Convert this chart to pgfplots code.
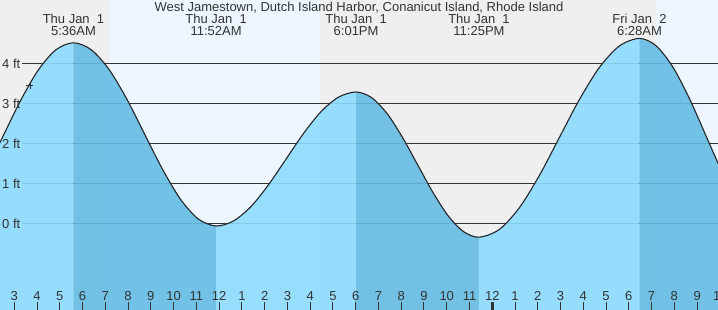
\documentclass[border=0pt]{standalone}
\usepackage{fontspec}
\setmainfont{Liberation Sans}
\usepackage{pgfplots}
\pgfplotsset{compat=1.18}
\definecolor{night}{RGB}{239,239,239}
\definecolor{day}{RGB}{237,246,254}
\definecolor{lightfill}{RGB}{141,219,255}
\definecolor{darkfill}{RGB}{101,189,229}
\definecolor{txt}{RGB}{51,51,51}
\newcommand\f{\fontsize{13bp}{15bp}\selectfont}
\begin{document}
\begin{tikzpicture}
\begin{axis}[
  scale only axis, width=718bp, height=310bp,
  xmin=2.372, xmax=33.918, ymin=-2.15, ymax=5.6,
  axis line style={draw=none},
  xtick={3,...,33},
  xticklabels={3,4,5,6,7,8,9,10,11,12,1,2,3,4,5,6,7,8,9,10,11,12,1,2,3,4,5,6,7,8,9},
  xtick pos=bottom, tick align=inside, major tick length=8bp,
  tick style={color=txt, line width=1bp},
  xticklabel style={anchor=south, yshift=5.7bp, font=\f, text=txt},
  ytick={0,1,2,3,4},
  yticklabels={0 ft,1 ft,2 ft,3 ft,4 ft},
  yticklabel style={anchor=west, xshift=-1.3bp, font=\f, text=txt},
  ytick style={draw=none},
  extra x ticks={24}, extra x tick labels={},
  extra x tick style={tick style={line width=2.7bp, color=txt}},
  axis on top,
]
\coordinate (bl) at (rel axis cs:0,0);
\coordinate (tr) at (rel axis cs:1,1);
% day / night background
\addplot[fill=night, draw=none] coordinates {(2.372,-2.15) (7.205,-2.15) (7.205,5.6) (2.372,5.6)} -- cycle;
\addplot[fill=day, draw=none] coordinates {(7.205,-2.15) (16.43,-2.15) (16.43,5.6) (7.205,5.6)} -- cycle;
\addplot[fill=night, draw=none] coordinates {(16.43,-2.15) (31.18,-2.15) (31.18,5.6) (16.43,5.6)} -- cycle;
\addplot[fill=day, draw=none] coordinates {(31.18,-2.15) (33.918,-2.15) (33.918,5.6) (31.18,5.6)} -- cycle;
% grid lines
\addplot[txt, line width=1bp] coordinates {(3.339,0) (33.918,0)};
\addplot[txt, line width=1bp] coordinates {(3.339,1) (33.918,1)};
\addplot[txt, line width=1bp] coordinates {(3.339,2) (33.918,2)};
\addplot[txt, line width=1bp] coordinates {(3.339,3) (33.918,3)};
\addplot[txt, line width=1bp] coordinates {(3.339,4) (33.918,4)};
% tide fills
\addplot[smooth, fill=lightfill, fill opacity=0.9, draw=none] coordinates {
(1.725,1.295) (2.5,2.19) (3.275,3.085) (4.05,3.845) (4.825,4.352) (5.6,4.53)}
 -- (5.6,-2.15) -- (1.725,-2.15) -- cycle;
\addplot[smooth, fill=darkfill, fill opacity=0.9, draw=none] coordinates {
(5.6,4.53) (6.383,4.356) (7.167,3.860) (7.950,3.116) (8.733,2.24) (9.517,1.364) (10.300,0.621) (11.084,0.125) (11.867,-0.05)}
 -- (11.867,-2.15) -- (5.6,-2.15) -- cycle;
\addplot[smooth, fill=lightfill, fill opacity=0.9, draw=none] coordinates {
(11.867,-0.05) (12.636,0.078) (13.404,0.440) (14.173,0.984) (14.942,1.625) (15.711,2.266) (16.479,2.810) (17.248,3.172) (18.017,3.3)}
 -- (18.017,-2.15) -- (11.867,-2.15) -- cycle;
\addplot[smooth, fill=darkfill, fill opacity=0.9, draw=none] coordinates {
(18.017,3.3) (18.692,3.162) (19.367,2.769) (20.042,2.179) (20.717,1.485) (21.392,0.791) (22.067,0.201) (22.742,-0.192) (23.417,-0.33)}
 -- (23.417,-2.15) -- (18.017,-2.15) -- cycle;
\addplot[smooth, fill=lightfill, fill opacity=0.9, draw=none] coordinates {
(23.417,-0.33) (24.298,-0.141) (25.180,0.398) (26.061,1.204) (26.942,2.155) (27.823,3.106) (28.705,3.912) (29.586,4.451) (30.467,4.64)}
 -- (30.467,-2.15) -- (23.417,-2.15) -- cycle;
\addplot[smooth, fill=darkfill, fill opacity=0.9, draw=none] coordinates {
(30.467,4.64) (31.205,4.452) (31.942,3.917) (32.680,3.115) (33.417,2.17) (34.155,1.225) (34.892,0.423)}
 -- (34.892,-2.15) -- (30.467,-2.15) -- cycle;
% tide curve
\addplot[smooth, color=black!85, line width=1.1bp] coordinates {
(1.725,1.295) (2.5,2.19) (3.275,3.085) (4.05,3.845) (4.825,4.352) (5.6,4.53)
(6.383,4.356) (7.167,3.860) (7.950,3.116) (8.733,2.24) (9.517,1.364) (10.300,0.621) (11.084,0.125) (11.867,-0.05)
(12.636,0.078) (13.404,0.440) (14.173,0.984) (14.942,1.625) (15.711,2.266) (16.479,2.810) (17.248,3.172) (18.017,3.3)
(18.692,3.162) (19.367,2.769) (20.042,2.179) (20.717,1.485) (21.392,0.791) (22.067,0.201) (22.742,-0.192) (23.417,-0.33)
(24.298,-0.141) (25.180,0.398) (26.061,1.204) (26.942,2.155) (27.823,3.106) (28.705,3.912) (29.586,4.451) (30.467,4.64)
(31.205,4.452) (31.942,3.917) (32.680,3.115) (33.417,2.17) (34.155,1.225) (34.892,0.423)};
% current time marker
\addplot[only marks, mark=+, mark size=3.5bp, color=txt, line width=0.9bp] coordinates {(3.69,3.46)};
% labels
\node[anchor=base, font=\f, text=txt] at (axis cs:18.145,5.31) {West Jamestown, Dutch Island Harbor, Conanicut Island, Rhode Island};
\node[anchor=base, font=\f, text=txt] at (axis cs:5.6,5.0) {Thu Jan\ \ 1};
\node[anchor=base, font=\f, text=txt] at (axis cs:5.6,4.7) {5:36AM};
\node[anchor=base, font=\f, text=txt] at (axis cs:11.867,5.0) {Thu Jan\ \ 1};
\node[anchor=base, font=\f, text=txt] at (axis cs:11.867,4.7) {11:52AM};
\node[anchor=base, font=\f, text=txt] at (axis cs:18.017,5.0) {Thu Jan\ \ 1};
\node[anchor=base, font=\f, text=txt] at (axis cs:18.017,4.7) {6:01PM};
\node[anchor=base, font=\f, text=txt] at (axis cs:23.417,5.0) {Thu Jan\ \ 1};
\node[anchor=base, font=\f, text=txt] at (axis cs:23.417,4.7) {11:25PM};
\node[anchor=base, font=\f, text=txt] at (axis cs:30.467,5.0) {Fri Jan\ \ 2};
\node[anchor=base, font=\f, text=txt] at (axis cs:30.467,4.7) {6:28AM};
\end{axis}
\node[anchor=base, font=\f, text=txt, inner sep=0pt] at ([xshift=720.3bp, yshift=10bp]bl -| bl) {10};
\pgfresetboundingbox
\useasboundingbox (bl) rectangle (tr);
\end{tikzpicture}
\end{document}
